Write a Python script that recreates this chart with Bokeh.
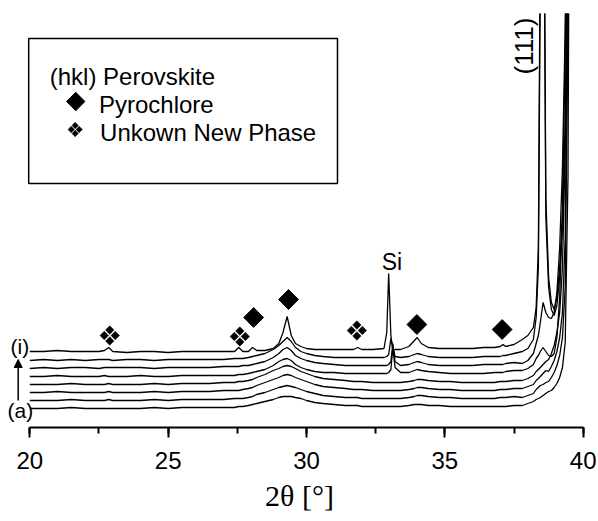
import math
from bokeh.plotting import figure
from bokeh.models import Range1d, SingleIntervalTicker, BoxAnnotation, Arrow, NormalHead
from bokeh.core.properties import value
from bokeh.embed import file_html
from bokeh.resources import INLINE

# ---------------- data (2theta in degrees, intensity in arbitrary units) -------------
two_theta = [20.0, 20.5, 21.0, 21.5, 22.0, 22.5, 22.7, 22.85, 23.0, 23.5,
             24.0, 24.5, 25.0, 25.5, 26.0, 26.5, 27.0, 27.4, 27.55, 27.7,
             27.9, 28.05, 28.2, 28.5, 28.8, 29.0, 29.15, 29.3, 29.45, 29.6,
             29.8, 30.0, 30.3, 30.6, 31.0, 31.4, 31.7, 31.85, 32.0, 32.4,
             32.8, 32.9, 32.97, 33.05, 33.12, 33.2, 33.4, 33.7, 33.9, 34.0,
             34.15, 34.4, 34.8, 35.2, 35.6, 36.0, 36.4, 36.8, 37.0, 37.1,
             37.2, 37.5, 37.8, 38.0, 38.2, 38.3, 38.38, 38.45, 38.55, 38.65,
             38.75, 38.85, 38.95, 39.05, 39.15, 39.25, 39.35, 39.45, 39.55, 39.7]

curve_i = [76, 76, 77, 76, 76, 76, 77, 80, 76, 75,
           76, 76, 75, 76, 76, 76, 76, 76, 80, 76,
           76, 80, 77, 77, 79, 84, 95, 111, 92, 84,
           81, 79, 78, 78, 78, 78, 78, 80, 78, 78,
           79, 95, 154, 92, 77, 78, 78, 81, 87, 90,
           84, 80, 79, 79, 79, 79, 80, 80, 81, 83,
           81, 83, 88, 92, 100, 120, 180, 500, 700, 230,
           150, 125, 118, 130, 160, 210, 300, 480, 900, 900]

curve_h = [67, 68, 67, 68, 67, 68, 68, 68, 67, 68,
           68, 67, 68, 68, 68, 68, 68, 69, 69, 69,
           70, 71, 72, 74, 78, 82, 86, 90, 86, 80,
           76, 74, 72, 71, 70, 70, 70, 70, 70, 70,
           70, 71, 73, 89, 80, 71, 70, 71, 73, 74,
           73, 71, 70, 70, 70, 70, 71, 71, 71, 72,
           72, 74, 76, 79, 88, 110, 160, 450, 700, 210,
           140, 118, 112, 122, 150, 200, 290, 460, 900, 900]

curve_g = [59, 60, 59, 60, 60, 59, 60, 60, 60, 60,
           60, 59, 60, 60, 60, 60, 61, 61, 61, 62,
           62, 63, 64, 66, 70, 74, 78, 80, 77, 72,
           69, 67, 65, 64, 63, 62, 62, 62, 62, 62,
           62, 62, 63, 66, 84, 66, 62, 63, 65, 66,
           65, 63, 62, 62, 62, 62, 63, 63, 63, 63,
           64, 65, 64, 67, 74, 84, 92, 105, 125, 115,
           110, 109, 115, 135, 180, 260, 400, 650, 900, 900]

curve_f = [51, 51, 52, 51, 51, 51, 52, 51, 51, 51,
           52, 51, 51, 52, 52, 52, 52, 52, 53, 53,
           54, 55, 56, 58, 62, 66, 68, 69, 67, 63,
           60, 58, 56, 55, 55, 54, 54, 54, 54, 54,
           54, 54, 55, 58, 80, 60, 55, 55, 57, 58,
           57, 56, 55, 54, 54, 54, 54, 55, 55, 55,
           56, 57, 57, 59, 63, 69, 72, 76, 80, 76,
           72, 71, 74, 90, 130, 220, 380, 650, 900, 900]

curve_e = [43, 43, 43, 44, 43, 43, 43, 44, 43, 43,
           43, 44, 43, 44, 44, 44, 45, 45, 46, 46,
           47, 48, 50, 53, 57, 59, 61, 62, 61, 59,
           56, 54, 51, 49, 48, 47, 46, 46, 46, 45,
           45, 45, 45, 45, 45, 45, 45, 46, 47, 48,
           48, 47, 46, 46, 45, 45, 45, 45, 46, 46,
           46, 47, 47, 49, 52, 56, 58, 60, 63, 66,
           68, 74, 82, 95, 115, 160, 280, 600, 900, 900]

curve_d = [35, 35, 36, 35, 35, 35, 35, 36, 35, 35,
           35, 36, 35, 36, 36, 36, 37, 37, 37, 38,
           39, 40, 42, 45, 48, 50, 52, 53, 52, 50,
           48, 46, 43, 41, 40, 39, 38, 38, 38, 37,
           37, 37, 37, 37, 37, 37, 37, 38, 39, 40,
           40, 39, 38, 38, 37, 37, 37, 37, 38, 38,
           38, 39, 39, 41, 43, 47, 49, 51, 54, 57,
           56, 61, 67, 76, 90, 115, 190, 500, 900, 900]

curve_c = [27, 27, 27, 28, 27, 27, 27, 28, 27, 27,
           27, 28, 27, 28, 28, 28, 28, 29, 29, 29,
           30, 31, 33, 35, 38, 40, 41, 42, 41, 40,
           38, 36, 34, 32, 31, 30, 30, 30, 29, 29,
           29, 29, 29, 29, 29, 29, 29, 30, 31, 32,
           32, 31, 30, 30, 29, 29, 29, 29, 30, 30,
           30, 31, 30, 32, 34, 38, 40, 42, 43, 45,
           46, 50, 55, 62, 72, 90, 140, 400, 900, 900]

curve_a = [19, 19, 19, 20, 19, 19, 19, 19, 19, 19,
           19, 20, 19, 20, 20, 20, 20, 20, 21, 21,
           22, 23, 24, 26, 28, 30, 31, 31, 31, 30,
           29, 27, 25, 24, 23, 22, 22, 22, 21, 21,
           21, 21, 21, 21, 21, 21, 21, 22, 23, 23,
           23, 22, 22, 21, 21, 21, 21, 21, 21, 21,
           21, 22, 22, 24, 26, 28, 29, 30, 32, 34,
           36, 37, 40, 44, 50, 60, 85, 250, 900, 900]

curves = [curve_i, curve_h, curve_g, curve_f, curve_e, curve_d, curve_c, curve_a]

pyro_x = [28.09, 29.35, 33.99, 37.07]
pyro_y = [110, 128, 103, 98]
unknown_x = [22.89, 27.59, 31.82]
unknown_y = [92, 91, 97]

tick_interval = 5
x_label = "2θ [°]"
legend_title = "(hkl) Perovskite"
legend_pyro = "Pyrochlore"
legend_unknown = "Unkown New Phase"

# ---------------- figure -------------
X0, X1 = 18.941, 40.553
W, H = 598, 521
p = figure(width=W, height=H, output_backend="svg", toolbar_location=None,
           x_range=Range1d(X0, X1), y_range=Range1d(0, 414),
           y_axis_location=None,
           min_border_left=0, min_border_right=0, min_border_top=13, min_border_bottom=94)
p.outline_line_color = None
p.xgrid.visible = False
p.ygrid.visible = False
p.background_fill_color = "white"
p.border_fill_color = "white"

px_per_deg = W / (X1 - X0)

ax = p.xaxis[0]
ax.bounds = (20, 40)
ax.ticker = SingleIntervalTicker(interval=tick_interval, num_minor_ticks=2)
ax.major_tick_out = 10
ax.major_tick_in = 0
ax.minor_tick_out = 6
ax.minor_tick_in = 0
ax.axis_line_width = 2
ax.axis_line_color = "black"
ax.major_tick_line_width = 2
ax.minor_tick_line_width = 2
ax.major_tick_line_color = "black"
ax.minor_tick_line_color = "black"
ax.major_label_text_font = "Liberation Sans"
ax.major_label_text_font_size = "24px"
ax.major_label_text_color = "black"
ax.major_label_standoff = 14
ax.axis_label = x_label
ax.axis_label_text_font = "Liberation Serif"
ax.axis_label_text_font_size = "30px"
ax.axis_label_text_font_style = "normal"
ax.axis_label_text_color = "black"
ax.axis_label_standoff = 7

for ys in curves:
    p.line(two_theta, ys, line_color="black", line_width=1.3)


def clover(xs, ys, off_px, size):
    cx, cy = [], []
    for x, y in zip(xs, ys):
        for dx, dy in ((-1, 0), (1, 0), (0, -1), (0, 1)):
            cx.append(x + dx * off_px / px_per_deg)
            cy.append(y + dy * off_px)
    p.scatter(cx, cy, marker="square", size=size, angle=math.pi / 4,
              fill_color="black", line_color="black", line_width=0.5)


# phase markers
p.scatter(pyro_x, pyro_y, marker="square", size=14, angle=math.pi / 4,
          fill_color="black", line_color="black")
clover(unknown_x, unknown_y, 5.5, 6)

sans = value("Liberation Sans")
p.text([33.09], [166], text=["Si"], text_align="center", text_baseline="alphabetic",
       text_font=sans, text_font_size="23px", text_color="black")
p.text([37.86], [381.5], text=["(111)"], angle=math.pi / 2, text_align="center",
       text_baseline="middle", text_font=sans, text_font_size="26px", text_color="black")

# sample labels and arrow
p.text([19.64], [81], text=["(i)"], text_align="center", text_baseline="middle",
       text_font=sans, text_font_size="21px", text_color="black")
p.text([19.66], [17], text=["(a)"], text_align="center", text_baseline="middle",
       text_font=sans, text_font_size="21px", text_color="black")
p.add_layout(Arrow(x_start=19.58, y_start=27, x_end=19.58, y_end=68,
                   line_width=1.5, line_color="black",
                   end=NormalHead(size=8, fill_color="black", line_color="black")))

# legend box
p.add_layout(BoxAnnotation(left=19.96, right=31.12, top=389, bottom=244,
                           fill_alpha=0, line_color="black", line_alpha=1.0, line_width=1.5))
p.text([20.72], [351], text=[legend_title], text_align="left", text_baseline="alphabetic",
       text_font=sans, text_font_size="24px", text_color="black")
p.scatter([21.66], [326], marker="square", size=13, angle=math.pi / 4,
          fill_color="black", line_color="black")
p.text([22.5], [323], text=[legend_pyro], text_align="left", text_baseline="alphabetic",
       text_font=sans, text_font_size="24px", text_color="black")
clover([21.64], [298], 4, 4.5)
p.text([22.54], [295], text=[legend_unknown], text_align="left", text_baseline="alphabetic",
       text_font=sans, text_font_size="24px", text_color="black")

open("out.html", "w").write(file_html(p, INLINE))
